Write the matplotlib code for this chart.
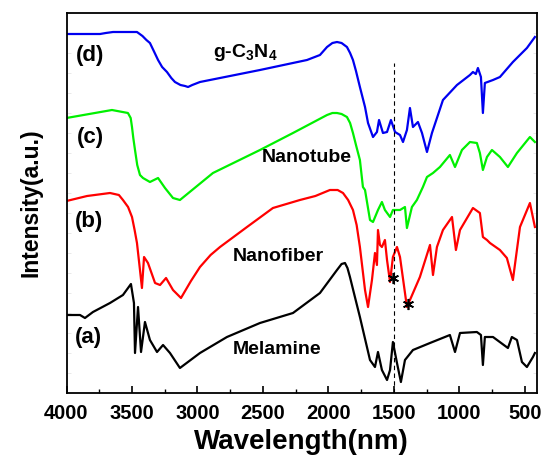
import matplotlib
matplotlib.use("Agg")
import matplotlib.pyplot as plt
from matplotlib.ticker import MultipleLocator, NullFormatter

plt.rcParams['font.family'] = ['Liberation Sans', 'DejaVu Sans']
plt.rcParams['font.weight'] = 'bold'
plt.rcParams['mathtext.fontset'] = 'custom'
plt.rcParams['mathtext.rm'] = 'Liberation Sans:bold'
plt.rcParams['mathtext.bf'] = 'Liberation Sans:bold'
plt.rcParams['mathtext.it'] = 'Liberation Sans:bold'

# ---- data (wavenumber, intensity a.u.) ----
d_wn = [4000, 3800, 3744, 3700, 3645, 3462, 3420, 3390, 3363, 3330, 3301, 3270, 3233, 3200, 3172,
        3130, 3095, 3072, 3040, 2981, 2523, 2164, 2065, 2011, 1970, 1935, 1900, 1859, 1835, 1813,
        1790, 1760, 1721, 1698, 1660, 1630, 1614, 1584, 1553, 1523, 1492, 1454, 1431, 1401,
        1378, 1355, 1317, 1286, 1248, 1210, 1126, 1019, 920, 897, 875, 859, 836, 821, 806, 744,
        691, 592, 485, 424]
d_y = [359, 359, 359, 360, 361, 361, 357, 353, 350, 341, 333, 326, 321, 315, 311,
       308, 307, 306, 308, 311, 323, 333, 338, 346, 350, 351, 350, 346, 340, 333,
       322, 306, 286, 270, 256, 261, 273, 260, 261, 273, 261, 258, 251, 263,
       285, 266, 271, 260, 241, 260, 293, 308, 318, 321, 319, 325, 316, 280, 310, 313,
       316, 331, 345, 356]

c_wn = [4000, 3653, 3531, 3510, 3500, 3490, 3477, 3460, 3439, 3416, 3363, 3301, 3248, 3187, 3134,
        2882, 2523, 2271, 2011, 1970, 1935, 1900, 1859, 1835, 1813, 1790, 1760, 1737, 1721, 1683,
        1660, 1622, 1592, 1569, 1530, 1508, 1454, 1416, 1401, 1363, 1325, 1279, 1248, 1202, 1149,
        1073, 1034, 981, 920, 867, 844, 821, 790, 752, 691, 630, 561, 462, 424]
c_y = [275, 283, 280, 275, 266, 255, 243, 228, 218, 215, 211, 215, 205, 195, 193,
       220, 243, 260, 278, 280, 280, 279, 276, 270, 260, 248, 233, 206, 203, 173,
       171, 183, 191, 183, 176, 183, 183, 186, 165, 186, 193, 206, 216, 220, 226,
       238, 226, 243, 251, 250, 240, 223, 236, 243, 236, 226, 240, 256, 251]

b_wn = [4000, 3843, 3668, 3600, 3569, 3530, 3500, 3480, 3462, 3439, 3424, 3408, 3378, 3324, 3286,
        3240, 3187, 3126, 3050, 2981, 2900, 2828, 2622, 2424, 2218, 2100, 1989, 1930, 1889, 1850,
        1813, 1785, 1760, 1721, 1698, 1668, 1645, 1630, 1622, 1607, 1592, 1569, 1553, 1530, 1508,
        1477, 1454, 1401, 1302, 1225, 1202, 1172, 1126, 1057, 1027, 996, 897, 844, 821, 790, 767,
        691, 638, 592, 538, 462, 424]
b_y = [192, 197, 200, 198, 193, 186, 176, 163, 150, 123, 105, 136, 130, 110, 108,
       115, 103, 95, 112, 126, 138, 146, 166, 185, 193, 197, 203, 203, 200, 193,
       183, 168, 146, 103, 86, 113, 140, 128, 163, 148, 146, 153, 133, 111, 136,
       146, 136, 86, 116, 148, 118, 146, 163, 176, 143, 163, 185, 180, 156, 153, 150,
       143, 135, 113, 166, 190, 166]

a_wn = [4000, 3897, 3859, 3798, 3668, 3569, 3508, 3485, 3477, 3454, 3431, 3401, 3363, 3309, 3263,
        3210, 3134, 2981, 2775, 2523, 2271, 2065, 1935, 1900, 1874, 1855, 1836, 1800, 1760, 1683,
        1645, 1622, 1592, 1553, 1530, 1508, 1477, 1447, 1416, 1355, 1225, 1073, 1034, 996, 867,
        836, 821, 806, 744, 630, 600, 561, 523, 485, 439, 424]
a_y = [78, 78, 75, 81, 90, 98, 109, 90, 40, 86, 41, 71, 53, 41, 48,
       40, 25, 40, 56, 70, 80, 100, 123, 129, 130, 125, 116, 97, 76, 33,
       26, 41, 23, 13, 23, 51, 30, 11, 33, 43, 50, 58, 41, 60, 61,
       58, 28, 56, 56, 45, 56, 53, 31, 26, 36, 40]

curve_labels = ['(a)', '(b)', '(c)', '(d)']
sample_names = ['Melamine', 'Nanofiber', 'Nanotube', r'g-C$_\mathbf{3}$N$_\mathbf{4}$']
star_wn = [1508, 1393]
star_y = [115, 89]
dash_wn = 1500
xticks = [4000, 3500, 3000, 2500, 2000, 1500, 1000, 500]

fig = plt.figure(figsize=(5.44, 4.71), dpi=100)
ax = fig.add_axes([66.5 / 544, 1 - 393 / 471, (537 - 66.5) / 544, (393 - 13) / 471])

lw = 1.6
ax.plot(a_wn, a_y, color='black', lw=lw)
ax.plot(b_wn, b_y, color='#ff0000', lw=lw)
ax.plot(c_wn, c_y, color='#00f000', lw=lw)
ax.plot(d_wn, d_y, color='#0000f0', lw=lw)

ax.plot([dash_wn, dash_wn], [0, 330], color='black', lw=0.8, ls=(0, (4, 3)))
ax.plot(star_wn, star_y, ls='none', marker=(6, 2, 0), ms=8, mew=1.2, color='black')

lab_pos = [(3836, 56), (3828, 171), (3821, 256), (3821, 338)]
for t, (x, y) in zip(curve_labels, lab_pos):
    ax.text(x, y, t, ha='center', va='center', fontsize=16, fontweight='bold')

name_pos = [(2393, 39), (2385, 132), (2165, 231), (2637, 336)]
for t, (x, y) in zip(sample_names, name_pos):
    ax.text(x, y, t, ha='center', va='baseline', fontsize=14, fontweight='bold')

ax.set_xlim(4000, 408)
ax.set_ylim(0, 380)
ax.set_xticks(xticks)
ax.set_xticklabels([str(v) for v in xticks])
ax.xaxis.set_minor_locator(MultipleLocator(250))
ax.tick_params(axis='x', which='major', direction='in', length=5, width=1.2,
               labelsize=14.5, pad=8, top=False)
ax.tick_params(axis='x', which='minor', direction='in', length=3, width=1.0, top=False)
ax.yaxis.set_major_locator(MultipleLocator(20))
ax.yaxis.set_major_formatter(NullFormatter())
ax.tick_params(axis='y', which='major', direction='in', length=3, width=0.5,
               color='#e0e0e0', left=True, right=True)
for lbl in ax.get_xticklabels():
    lbl.set_fontweight('bold')
for s in ax.spines.values():
    s.set_linewidth(1.3)

ax.set_xlabel('Wavelength(nm)', fontsize=20, fontweight='bold', labelpad=4)
ax.set_ylabel('Intensity(a.u.)', fontsize=16.5, fontweight='bold', labelpad=14)

fig.savefig('out.png', dpi=100)
